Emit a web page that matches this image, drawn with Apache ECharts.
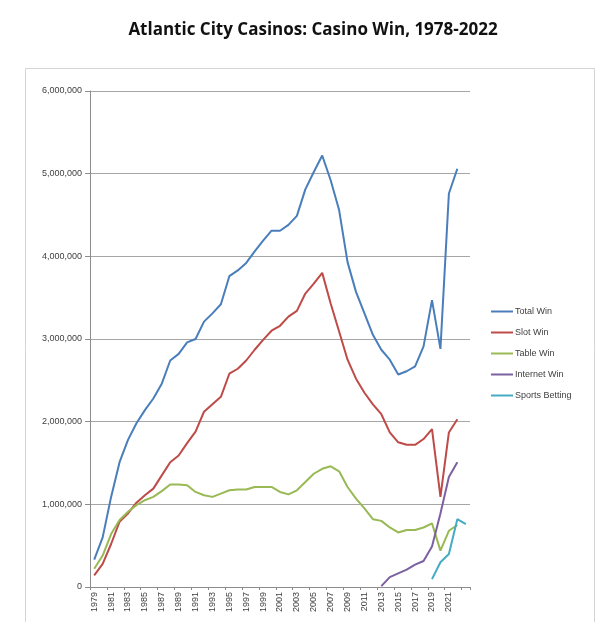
<!DOCTYPE html>
<html>
<head>
<meta charset="utf-8">
<script src="https://cdn.jsdelivr.net/npm/echarts@6/dist/echarts.min.js"></script>
<style>
html,body{margin:0;padding:0;background:#fff;}
#chart{width:600px;height:622px;}
</style>
</head>
<body>
<div id="chart"></div>
<script>
// Categories (years); the last category carries no label in the reference
const categories = ['1979','1980','1981','1982','1983','1984','1985','1986','1987','1988','1989','1990','1991','1992','1993','1994','1995','1996','1997','1998','1999','2000','2001','2002','2003','2004','2005','2006','2007','2008','2009','2010','2011','2012','2013','2014','2015','2016','2017','2018','2019','2020','2021','2022',''];

// Values in thousands of dollars
const totalWin = [330000,600000,1090000,1510000,1780000,1980000,2140000,2280000,2460000,2740000,2820000,2960000,3000000,3210000,3310000,3420000,3760000,3830000,3920000,4060000,4190000,4310000,4310000,4380000,4490000,4810000,5020000,5220000,4920000,4560000,3930000,3570000,3310000,3050000,2870000,2750000,2570000,2610000,2670000,2910000,3470000,2880000,4760000,5060000];
const slotWin = [140000,280000,520000,790000,890000,1020000,1110000,1190000,1350000,1510000,1590000,1740000,1880000,2120000,2210000,2300000,2580000,2640000,2740000,2870000,2990000,3100000,3160000,3270000,3340000,3550000,3670000,3800000,3430000,3090000,2750000,2520000,2350000,2210000,2090000,1870000,1750000,1720000,1720000,1790000,1910000,1090000,1870000,2030000];
const tableWin = [220000,380000,640000,810000,910000,990000,1050000,1090000,1160000,1240000,1240000,1230000,1150000,1110000,1090000,1130000,1170000,1180000,1180000,1210000,1210000,1210000,1150000,1120000,1170000,1270000,1370000,1430000,1460000,1400000,1210000,1070000,950000,820000,800000,720000,660000,690000,690000,720000,770000,440000,680000,750000];
const internetStart = '2013';
const internetWin = [10000,120000,165000,210000,270000,315000,490000,890000,1330000,1510000];
const sportsStart = '2019';
const sportsBetting = [95000,300000,400000,820000,760000];

const yTicks = [0,1000000,2000000,3000000,4000000,5000000,6000000];

function pad(startCat, arr){
  const idx = categories.indexOf(startCat);
  const out = [];
  for (let i = 0; i < idx; i++) out.push(null);
  return out.concat(arr);
}

const colors = ['#4A7EBB','#BE4B48','#98B954','#7D60A0','#46AAC5'];
const names = ['Total Win','Slot Win','Table Win','Internet Win','Sports Betting'];
const datas = [totalWin, slotWin, tableWin, pad(internetStart, internetWin), pad(sportsStart, sportsBetting)];

const chart = echarts.init(document.getElementById('chart'), null, {renderer:'canvas'});
const fmt = v => v.toString().replace(/\B(?=(\d{3})+(?!\d))/g, ',');

chart.setOption({
  animation:false,
  backgroundColor:'#ffffff',
  title:{
    text:'Atlantic City Casinos: Casino Win, 1978-2022',
    left:308, top:17, textAlign:'center',
    textStyle:{fontFamily:'Open Sans', fontWeight:'bold', fontSize:17, color:'#111'}
  },
  graphic:[{
    type:'rect', left:23, top:66, z:-1,
    shape:{width:569, height:555},
    style:{fill:'none', stroke:'#d4d4d4', lineWidth:1}
  }],
  grid:{left:90, right:130, top:91, bottom:35, containLabel:false},
  legend:{
    orient:'vertical', left:486, top:302,
    icon:'rect', itemWidth:22, itemHeight:2, itemGap:12,
    textStyle:{fontFamily:'Liberation Sans', fontSize:9, color:'#404040', padding:[0,0,0,-3]},
    data:names
  },
  xAxis:{
    type:'category', data:categories, boundaryGap:true,
    axisLine:{lineStyle:{color:'#8c8c8c', width:1}},
    axisTick:{show:true, length:3, lineStyle:{color:'#8c8c8c'}},
    axisLabel:{interval:1, rotate:90, fontFamily:'Liberation Sans', fontSize:9, color:'#404040', margin:5}
  },
  yAxis:{
    type:'value', min:yTicks[0], max:yTicks[yTicks.length-1], interval:1000000,
    axisLine:{show:true, lineStyle:{color:'#8c8c8c', width:1}},
    axisTick:{show:true, length:5, lineStyle:{color:'#8c8c8c'}},
    splitLine:{lineStyle:{color:'#a6a6a6', width:1}},
    axisLabel:{fontFamily:'Liberation Sans', fontSize:9, color:'#404040', margin:8, formatter:v=>fmt(v)}
  },
  series: names.map((n,i)=>({
    name:n, type:'line', data:datas[i], showSymbol:false, symbol:'none',
    connectNulls:false,
    lineStyle:{color:colors[i], width:2}, itemStyle:{color:colors[i]}
  }))
});
</script>
</body>
</html>
